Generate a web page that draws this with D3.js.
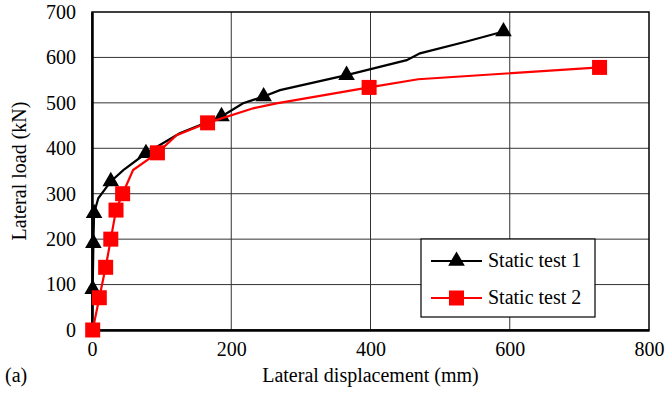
<!DOCTYPE html>
<html>
<head>
<meta charset="utf-8">
<script src="https://d3js.org/d3.v7.min.js"></script>
</head>
<body style="margin:0; background:#fff">
<script>
// Static test 1: curve points, and which of them carry a marker
const test1Disp = [0, 1, 2, 3, 9, 27, 45, 77.5, 126, 186, 217, 246.5, 270, 365.6, 452, 471, 538, 591];
const test1Load = [0, 90, 191, 257, 290, 327, 352, 389, 433, 470, 499, 514, 528, 561, 594, 609, 635, 657];
const test1Marks = [1, 2, 3, 5, 7, 9, 11, 13, 17];

// Static test 2
const test2Disp = [1, 10.5, 19.6, 27, 34.5, 44, 59, 94, 121.5, 166, 231.6, 265, 398, 468.5, 729];
const test2Load = [0, 71, 138, 200, 264, 300, 352, 390, 429, 456, 488, 499, 534, 552, 578];
const test2Marks = [0, 1, 2, 3, 4, 5, 7, 9, 12, 14];

const xTicks = [0, 200, 400, 600, 800];
const yTicks = [0, 100, 200, 300, 400, 500, 600, 700];
const seriesNames = ['Static test 1', 'Static test 2'];

const width = 667, height = 404;
const margin = { left: 92, right: 18, top: 12, bottom: 74 };
const fontFamily = '"Liberation Serif"';
const fontSize = '20px';

const svg = d3.select('body').append('svg')
    .attr('width', width)
    .attr('height', height);

const x = d3.scaleLinear().domain([0, 800]).range([margin.left, width - margin.right]);
const y = d3.scaleLinear().domain([0, 700]).range([height - margin.bottom, margin.top]);

function label(sel) {
    return sel
        .attr('font-family', 'Liberation Serif')
        .style('font-family', fontFamily, 'important')
        .style('font-size', fontSize)
        .attr('fill', '#000');
}

// grid
svg.append('g').selectAll('line.v')
    .data(xTicks.slice(1, -1))
    .enter().append('line')
    .attr('x1', d => x(d)).attr('x2', d => x(d))
    .attr('y1', y(0)).attr('y2', y(700))
    .attr('stroke', '#333').attr('stroke-width', 1);

svg.append('g').selectAll('line.h')
    .data(yTicks.slice(1, -1))
    .enter().append('line')
    .attr('x1', x(0)).attr('x2', x(800))
    .attr('y1', d => y(d)).attr('y2', d => y(d))
    .attr('stroke', '#333').attr('stroke-width', 1);

// frame
svg.append('rect')
    .attr('x', x(0)).attr('y', y(700))
    .attr('width', x(800) - x(0)).attr('height', y(0) - y(700))
    .attr('fill', 'none').attr('stroke', '#000').attr('stroke-width', 1.5);

// axes
const xAxis = svg.append('g')
    .attr('transform', `translate(0,${y(0)})`)
    .call(d3.axisBottom(x).tickValues(xTicks).tickSize(0).tickPadding(12));
const yAxis = svg.append('g')
    .attr('transform', `translate(${x(0)},0)`)
    .call(d3.axisLeft(y).tickValues(yTicks).tickSize(0).tickPadding(16));

[xAxis, yAxis].forEach(a => {
    a.attr('font-family', 'Liberation Serif').attr('font-size', null);
    a.select('.domain').attr('stroke', '#000').attr('stroke-width', 2.5);
    label(a.selectAll('text'));
});

// axis titles
label(svg.append('text'))
    .attr('x', (x(0) + x(800)) / 2).attr('y', 382)
    .attr('text-anchor', 'middle')
    .text('Lateral displacement (mm)');

label(svg.append('text'))
    .attr('x', 5).attr('y', 382)
    .text('(a)');

label(svg.append('text'))
    .attr('transform', `translate(26,${(y(0) + y(700)) / 2}) rotate(-90)`)
    .attr('text-anchor', 'middle')
    .text('Lateral load (kN)');

// series
const line = d3.line().x(d => x(d[0])).y(d => y(d[1]));
const tri = d3.symbol().type(d3.symbolTriangle).size(120);

function drawSeries(disp, load, marks, color, shape) {
    const pts = disp.map((d, i) => [d, load[i]]);
    svg.append('path')
        .datum(pts)
        .attr('fill', 'none')
        .attr('stroke', color)
        .attr('stroke-width', 2.2)
        .attr('d', line);
    const mp = marks.map(i => pts[i]);
    if (shape === 'tri') {
        svg.append('g').selectAll('path')
            .data(mp).enter().append('path')
            .attr('d', tri)
            .attr('transform', d => `translate(${x(d[0])},${y(d[1])})`)
            .attr('fill', color);
    } else {
        svg.append('g').selectAll('rect')
            .data(mp).enter().append('rect')
            .attr('x', d => x(d[0]) - 7.5).attr('y', d => y(d[1]) - 7.5)
            .attr('width', 15).attr('height', 15)
            .attr('fill', color);
    }
}

drawSeries(test1Disp, test1Load, test1Marks, '#000', 'tri');
drawSeries(test2Disp, test2Load, test2Marks, '#ff0000', 'sq');

// legend
const lg = svg.append('g').attr('transform', 'translate(421,239)');
lg.append('rect')
    .attr('width', 174).attr('height', 78)
    .attr('fill', '#fff').attr('stroke', '#000').attr('stroke-width', 1.2);

const legendRows = [
    { name: seriesNames[0], color: '#000', shape: 'tri', y: 22 },
    { name: seriesNames[1], color: '#ff0000', shape: 'sq', y: 59 }
];
legendRows.forEach(r => {
    lg.append('line')
        .attr('x1', 10).attr('x2', 61)
        .attr('y1', r.y).attr('y2', r.y)
        .attr('stroke', r.color).attr('stroke-width', 2.2);
    if (r.shape === 'tri') {
        lg.append('path').attr('d', tri)
            .attr('transform', `translate(35.5,${r.y})`)
            .attr('fill', r.color);
    } else {
        lg.append('rect')
            .attr('x', 28).attr('y', r.y - 7.5)
            .attr('width', 15).attr('height', 15)
            .attr('fill', r.color);
    }
    label(lg.append('text'))
        .attr('x', 67).attr('y', r.y + 6)
        .text(r.name);
});
</script>
</body>
</html>
